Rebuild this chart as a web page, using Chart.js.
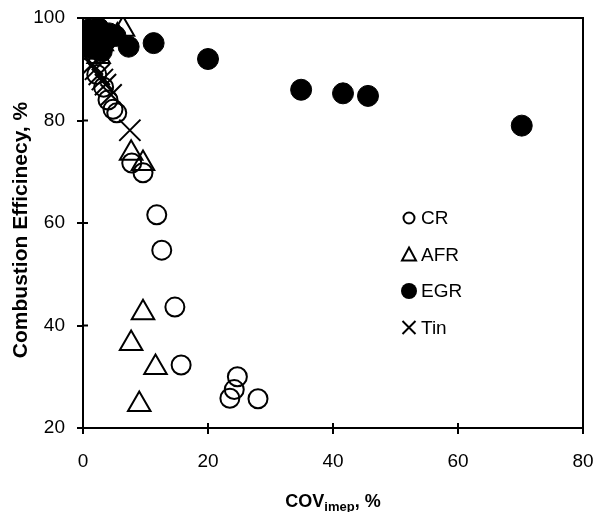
<!DOCTYPE html>
<html>
<head>
<meta charset="utf-8">
<script src="https://cdn.jsdelivr.net/npm/chart.js@4"></script>
<style>
  html, body { margin: 0; padding: 0; background: #fff; }
  #wrap { width: 595px; height: 512px; }
</style>
</head>
<body>
<div id="wrap"><canvas id="js-chart-comb"></canvas></div>
<script>
// Data: COV_imep (%) vs combustion efficiency (%)
const crCov = [2.2, 3.3, 4.0, 4.8, 5.4, 7.8, 9.6, 11.8, 12.6, 14.7, 15.7, 23.5, 24.2, 24.7, 28.0];
const crEff = [89.0, 86.5, 84.0, 82.2, 81.5, 71.7, 69.8, 61.6, 54.7, 43.6, 32.3, 25.8, 27.5, 30.0, 25.7];

const afrCov = [6.4, 5.5, 3.0, 2.5, 7.7, 9.6, 9.6, 7.7, 11.6, 9.0];
const afrEff = [97.8, 96.5, 95.0, 92.5, 73.6, 71.6, 42.5, 36.5, 31.8, 24.6];

const egrCov = [1.0, 1.6, 2.5, 3.0, 2.0, 1.0, 3.6, 1.5, 2.6, 4.2, 5.2, 3.0, 7.3, 11.3, 20.0, 34.9, 41.6, 45.6, 70.2];
const egrEff = [97.8, 97.4, 98.0, 97.0, 96.0, 95.0, 95.5, 94.0, 94.5, 97.0, 96.5, 93.5, 94.4, 95.1, 92.0, 86.0, 85.3, 84.8, 79.0];

const tinCov = [1.0, 1.5, 2.0, 2.6, 3.1, 3.6, 4.5, 7.5];
const tinEff = [93.0, 91.0, 90.0, 89.0, 88.0, 87.0, 85.0, 78.1];

const xTicks = [0, 20, 40, 60, 80];
const yTicks = [20, 40, 60, 80, 100];

const seriesNames = ['CR', 'AFR', 'EGR', 'Tin'];

const FONT = '"Liberation Sans", Arial, sans-serif';

function toPoints(xs, ys) {
  return xs.map((x, i) => ({ x: x, y: ys[i] }));
}

// legend drawn inside the plot, like the original
const legendSymbols = [
  { style: 'circle', filled: false },
  { style: 'triangle', filled: false },
  { style: 'circle', filled: true },
  { style: 'cross', filled: false }
];

function drawSymbol(ctx, s, x, y) {
  ctx.save();
  ctx.strokeStyle = '#000';
  ctx.fillStyle = '#000';
  ctx.lineWidth = 2;
  ctx.beginPath();
  if (s.style === 'circle') {
    ctx.arc(x, y, s.filled ? 8 : 5.5, 0, Math.PI * 2);
    if (s.filled) ctx.fill(); else ctx.stroke();
  } else if (s.style === 'triangle') {
    ctx.moveTo(x, y - 7);
    ctx.lineTo(x + 7, y + 6);
    ctx.lineTo(x - 7, y + 6);
    ctx.closePath();
    ctx.stroke();
  } else {
    ctx.moveTo(x - 6.5, y - 6.5); ctx.lineTo(x + 6.5, y + 6.5);
    ctx.moveTo(x + 6.5, y - 6.5); ctx.lineTo(x - 6.5, y + 6.5);
    ctx.stroke();
  }
  ctx.restore();
}

const framePlugin = {
  id: 'frame',
  afterDraw(chart) {
    const ctx = chart.ctx;
    const a = chart.chartArea;
    const xs = chart.scales.x, ys = chart.scales.y;
    ctx.save();
    ctx.strokeStyle = '#000';
    ctx.lineWidth = 2;
    ctx.strokeRect(a.left, a.top, a.right - a.left, a.bottom - a.top);
    // inner part of the crossing ticks
    ctx.beginPath();
    xTicks.forEach(v => {
      const px = xs.getPixelForValue(v);
      ctx.moveTo(px, a.bottom); ctx.lineTo(px, a.bottom - 5);
    });
    yTicks.forEach(v => {
      const py = ys.getPixelForValue(v);
      ctx.moveTo(a.left, py); ctx.lineTo(a.left + 5, py);
    });
    ctx.stroke();

    // legend
    ctx.font = '19px ' + FONT;
    ctx.textBaseline = 'middle';
    ctx.fillStyle = '#000';
    const lx = 409, ly = 218, step = 36.5;
    seriesNames.forEach((name, i) => {
      drawSymbol(ctx, legendSymbols[i], lx, ly + i * step);
      ctx.fillText(name, lx + 12, ly + i * step + 1);
    });

    // y title
    ctx.save();
    ctx.translate(21, 230);
    ctx.rotate(-Math.PI / 2);
    ctx.font = 'bold 21px ' + FONT;
    ctx.textAlign = 'center';
    ctx.fillText('Combustion Efficinecy, %', 0, 0);
    ctx.restore();

    // x title with subscript
    const big = 'bold 18px ' + FONT, small = 'bold 13px ' + FONT;
    ctx.textBaseline = 'alphabetic';
    ctx.font = big;
    const w1 = ctx.measureText('COV').width;
    const w3 = ctx.measureText(', %').width;
    ctx.font = small;
    const w2 = ctx.measureText('imep').width;
    let tx = (a.left + a.right) / 2 - (w1 + w2 + w3) / 2;
    const ty = 507;
    ctx.textAlign = 'left';
    ctx.font = big; ctx.fillText('COV', tx, ty); tx += w1;
    ctx.font = small; ctx.fillText('imep', tx, ty + 4); tx += w2;
    ctx.font = big; ctx.fillText(', %', tx, ty);
    ctx.restore();
  }
};

function initChart() {
  const con = document.getElementById('js-chart-comb');

  Chart.defaults.font.family = FONT;
  Chart.defaults.color = '#000';

  new Chart(con, {
    type: 'scatter',
    data: {
      datasets: [
        {
          label: seriesNames[0], data: toPoints(crCov, crEff),
          pointStyle: 'circle', pointRadius: 9.5, borderWidth: 2,
          borderColor: '#000', backgroundColor: 'rgba(0,0,0,0)'
        },
        {
          label: seriesNames[1], data: toPoints(afrCov, afrEff),
          pointStyle: 'triangle', pointRadius: 13, borderWidth: 2,
          borderColor: '#000', backgroundColor: 'rgba(0,0,0,0)'
        },
        {
          label: seriesNames[2], data: toPoints(egrCov, egrEff),
          pointStyle: 'circle', pointRadius: 10.5, borderWidth: 1,
          borderColor: '#000', backgroundColor: '#000'
        },
        {
          label: seriesNames[3], data: toPoints(tinCov, tinEff),
          pointStyle: 'crossRot', pointRadius: 15, borderWidth: 2,
          borderColor: '#000', backgroundColor: '#000'
        }
      ]
    },
    options: {
      responsive: true,
      maintainAspectRatio: false,
      animation: false,
      layout: { autoPadding: false, padding: { left: 0, top: 18, right: 12, bottom: 0 } },
      plugins: {
        legend: { display: false },
        tooltip: { enabled: false }
      },
      scales: {
        x: {
          type: 'linear', min: 0, max: 80,
          afterFit: s => { s.height = 84; s.paddingLeft = 0; s.paddingRight = 0; },
          afterBuildTicks: s => { s.ticks = xTicks.map(v => ({ value: v })); },
          grid: { drawOnChartArea: false, drawTicks: true, tickLength: 6, color: '#000', lineWidth: 2 },
          border: { display: true, color: '#000', width: 2 },
          ticks: { font: { size: 19 }, color: '#000', padding: 16, maxRotation: 0 }
        },
        y: {
          type: 'linear', min: 20, max: 100,
          afterFit: s => { s.width = 83; s.paddingTop = 0; s.paddingBottom = 0; },
          afterBuildTicks: s => { s.ticks = yTicks.map(v => ({ value: v })); },
          grid: { drawOnChartArea: false, drawTicks: true, tickLength: 6, color: '#000', lineWidth: 2 },
          border: { display: true, color: '#000', width: 2 },
          ticks: { font: { size: 19 }, color: '#000', padding: 12 }
        }
      }
    },
    plugins: [framePlugin]
  });
}

initChart();
</script>
</body>
</html>
